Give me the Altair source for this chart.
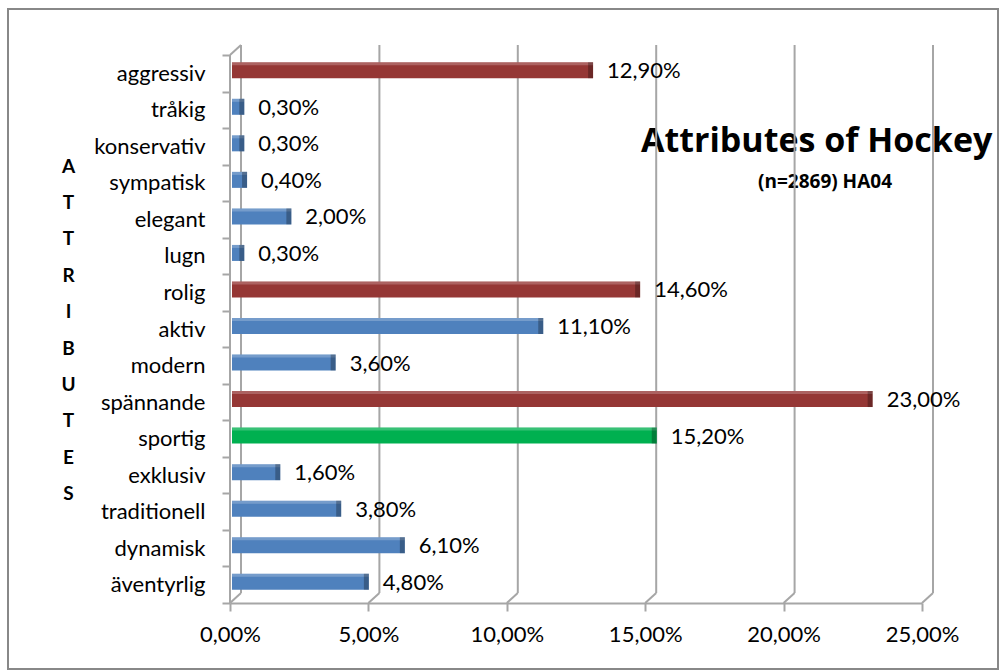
import altair as alt
import pandas as pd

# ---------------- data ----------------
categories = ["aggressiv", "tråkig", "konservativ", "sympatisk", "elegant", "lugn",
              "rolig", "aktiv", "modern", "spännande", "sportig", "exklusiv",
              "traditionell", "dynamisk", "äventyrlig"]
values = [12.9, 0.3, 0.3, 0.4, 2.0, 0.3, 14.6, 11.1, 3.6, 23.0, 15.2, 1.6, 3.8, 6.1, 4.8]
red_items = ["aggressiv", "rolig", "spännande"]
green_items = ["sportig"]
x_ticks = [0, 5, 10, 15, 20, 25]
title_text = "Attributes of Hockey"
subtitle_text = "(n=2869) HA04"
axis_title_letters = list("ATTRIBUTES")

df = pd.DataFrame({"attr": categories, "value": values})
df["group"] = ["red" if c in red_items else ("green" if c in green_items else "blue")
               for c in categories]
df["zero"] = 0
grid_df = pd.DataFrame({"tick": x_ticks})
one = pd.DataFrame({"zero": [0], "title": [title_text], "subtitle": [subtitle_text]})

# ---------------- styling ----------------
W, H = 692, 548
FONT = "Lato"
TFONT = "Open Sans"
GRID = "#A6A6A6"
DX, DY = 11, 10
LABEL_EXPR = "replace(format(datum.value, '.2f'), '.', ',') + '%'"

xscale = alt.Scale(domain=[0, 25], nice=False, zero=True)
yscale = alt.Scale(domain=categories, paddingInner=0, paddingOuter=0)

x_axis = alt.Axis(values=x_ticks, labelExpr=LABEL_EXPR, title=None, grid=False,
                  domainColor=GRID, domainWidth=2, tickColor=GRID, tickWidth=2,
                  tickSize=8, labelPadding=13, labelFont=FONT, labelFontSize=22,
                  labelColor="#000000", labelFlush=False, labelOverlap=False)
y_axis = alt.Axis(title=axis_title_letters, titleAngle=0, titleX=-162, titleY=117,
                  titleAlign="center", titleBaseline="alphabetic", titleLineHeight=36.4,
                  titleFont=FONT, titleFontSize=19, titleFontWeight="bold",
                  titleColor="#000000",
                  tickBand="extent", domain=False, tickColor=GRID, tickWidth=2,
                  tickSize=8, labelPadding=17, labelFont=FONT, labelFontSize=22,
                  labelColor="#000000", labelBaseline="middle")

X = lambda f: alt.X(f, scale=xscale, axis=x_axis)
Y = alt.Y("attr:N", sort=categories, scale=yscale, axis=y_axis)

color = alt.Color("group:N", scale=alt.Scale(domain=["red", "blue", "green"],
                                             range=["#953735", "#4F81BD", "#00B050"]),
                  legend=None)

# title text (drawn behind gridlines as in the reference)
title_layer = alt.Chart(one).mark_text(font=TFONT, fontSize=34, fontWeight="bold",
                                       align="left", baseline="alphabetic",
                                       color="#000000").encode(
    x=alt.value(411), y=alt.value(97), text="title:N")
subtitle_layer = alt.Chart(one).mark_text(font=TFONT, fontSize=19, fontWeight="bold",
                                          align="center", baseline="alphabetic",
                                          color="#000000").encode(
    x=alt.value(595), y=alt.value(133), text="subtitle:N")

# back-wall gridlines and floor diagonals
grid = alt.Chart(grid_df).mark_rule(color=GRID, strokeWidth=2, xOffset=DX).encode(
    x=X("tick:Q"), y=alt.value(-10), y2=alt.value(H - DY))
diag = alt.Chart(grid_df).mark_rule(color=GRID, strokeWidth=2, x2Offset=DX).encode(
    x=X("tick:Q"), x2="tick:Q", y=alt.value(H), y2=alt.value(H - DY))
wall_front = alt.Chart(one).mark_rule(color=GRID, strokeWidth=2).encode(
    x=X("zero:Q"), y=alt.value(0), y2=alt.value(H))
wall_top = alt.Chart(one).mark_rule(color=GRID, strokeWidth=2, x2Offset=DX).encode(
    x=X("zero:Q"), x2="zero:Q", y=alt.value(0), y2=alt.value(-10))

# bars
bars = alt.Chart(df).mark_bar(height=16, yOffset=-3, xOffset=2, x2Offset=6).encode(
    x=X("zero:Q"), x2="value:Q", y=Y, color=color)
bar_top = alt.Chart(df).mark_bar(height=3, yOffset=-9.5, xOffset=2, x2Offset=6,
                                 color="#FFFFFF", opacity=0.22).encode(
    x=X("zero:Q"), x2="value:Q", y=Y)
bar_end = alt.Chart(df).mark_bar(height=16, yOffset=-3, xOffset=1, x2Offset=6,
                                 color="#000000", opacity=0.28).encode(
    x=X("value:Q"), x2="value:Q", y=Y)

labels = alt.Chart(df).transform_calculate(
    lbl=LABEL_EXPR
).mark_text(font=FONT, fontSize=22, align="left", baseline="middle", dx=20, dy=-2,
            color="#000000").encode(
    x=X("value:Q"), y=Y, text="lbl:N")

border = alt.Chart(one).mark_rect(fillOpacity=0, stroke="#888888", strokeWidth=2).encode(
    x=alt.value(-222), x2=alt.value(768), y=alt.value(-46), y2=alt.value(614))

chart = alt.layer(
    border, title_layer, subtitle_layer, grid, diag, wall_front, wall_top,
    bars, bar_top, bar_end, labels
).properties(
    width=W, height=H,
    autosize=alt.AutoSizeParams(type="none"),
    padding={"left": 230, "top": 55, "right": 80, "bottom": 67},
    background="#FFFFFF",
).configure_view(stroke=None)

chart.save("out.html", embed_options={"renderer": "svg", "actions": False})
